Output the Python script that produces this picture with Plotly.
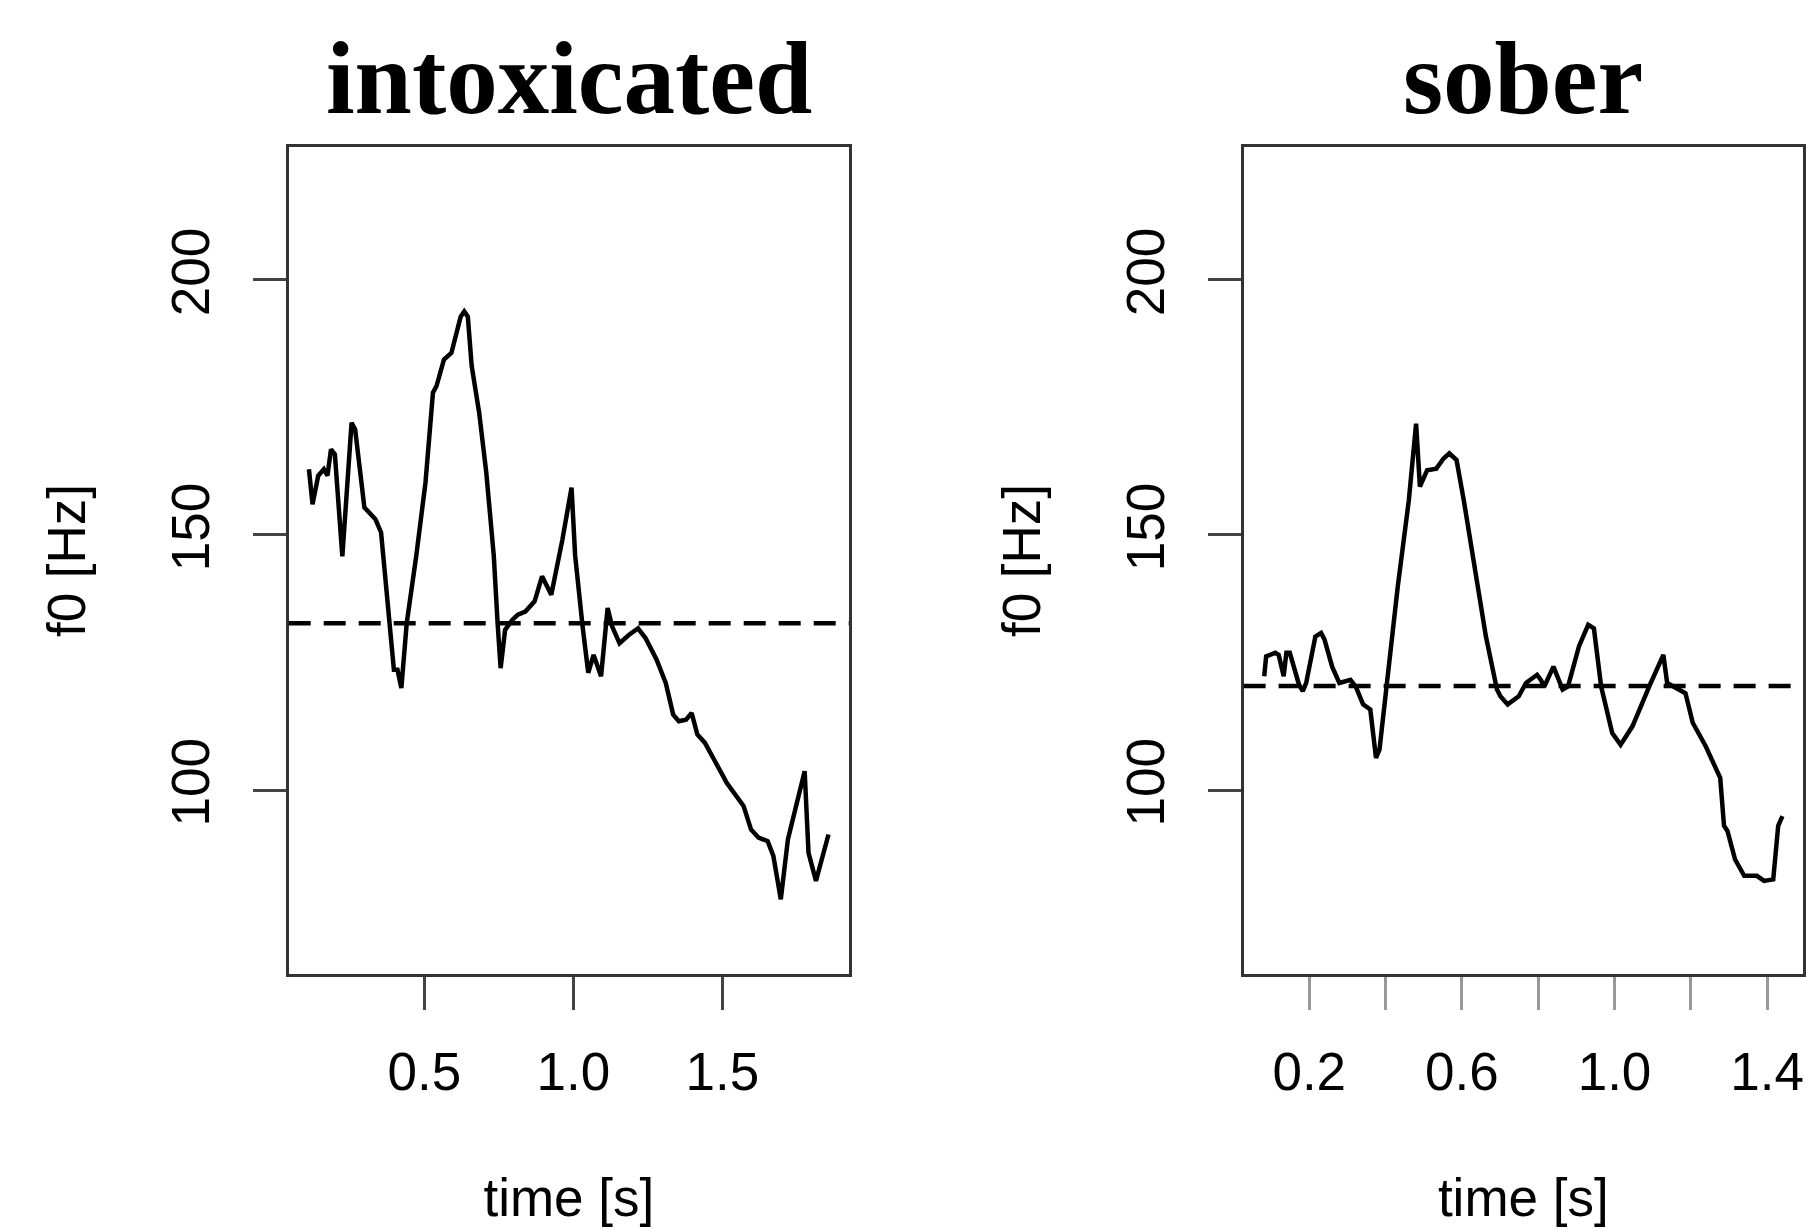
import plotly.graph_objects as go

# ---- data ----
t_intox = [0.113, 0.125, 0.144, 0.163, 0.175, 0.187, 0.200, 0.225, 0.256, 0.268,
           0.299, 0.336, 0.355, 0.385, 0.398, 0.410, 0.423, 0.441, 0.473, 0.504,
           0.529, 0.541, 0.566, 0.591, 0.622, 0.634, 0.646, 0.659, 0.684, 0.708,
           0.733, 0.746, 0.756, 0.771, 0.796, 0.814, 0.839, 0.870, 0.895, 0.926,
           0.963, 0.994, 1.006, 1.031, 1.050, 1.068, 1.093, 1.115, 1.130, 1.155,
           1.186, 1.217, 1.242, 1.279, 1.310, 1.335, 1.354, 1.378, 1.397, 1.416,
           1.441, 1.472, 1.515, 1.571, 1.596, 1.621, 1.652, 1.671, 1.696, 1.720,
           1.776, 1.789, 1.814, 1.856]
f0_intox = [162.9, 156.0, 161.6, 162.9, 161.6, 166.8, 165.8, 145.8, 172.0, 170.7,
            155.4, 153.1, 150.5, 132.7, 123.6, 123.6, 120.0, 132.7, 145.9, 160.3,
            177.9, 179.2, 184.4, 185.7, 192.8, 193.8, 192.8, 183.1, 174.0, 162.2,
            146.0, 132.7, 123.9, 131.4, 133.4, 134.4, 135.0, 137.0, 141.9, 138.3,
            149.0, 159.3, 146.0, 132.1, 123.0, 126.5, 122.3, 135.7, 132.1, 128.8,
            130.4, 131.7, 129.8, 125.6, 121.0, 114.8, 113.5, 113.8, 115.1, 110.9,
            109.3, 106.0, 101.4, 96.9, 92.3, 90.7, 90.0, 87.1, 78.6, 90.4,
            103.7, 87.7, 82.2, 91.3]

t_sober = [0.082, 0.087, 0.111, 0.120, 0.133, 0.140, 0.149, 0.164, 0.173, 0.183,
           0.192, 0.216, 0.231, 0.240, 0.260, 0.279, 0.298, 0.308, 0.322, 0.341,
           0.360, 0.368, 0.375, 0.384, 0.404, 0.432, 0.461, 0.480, 0.490, 0.509,
           0.533, 0.552, 0.567, 0.586, 0.605, 0.634, 0.663, 0.692, 0.701, 0.720,
           0.749, 0.768, 0.797, 0.807, 0.816, 0.840, 0.864, 0.878, 0.907, 0.931,
           0.946, 0.965, 0.994, 1.016, 1.047, 1.095, 1.128, 1.138, 1.157, 1.186,
           1.205, 1.239, 1.277, 1.287, 1.296, 1.316, 1.340, 1.373, 1.392, 1.416,
           1.429, 1.440]
f0_sober = [122.3, 126.2, 126.9, 126.5, 122.3, 126.9, 126.9, 122.9, 120.7, 119.4,
            121.0, 130.1, 130.8, 129.5, 124.2, 121.0, 121.3, 121.6, 120.3, 116.8,
            115.8, 109.9, 106.3, 107.9, 121.6, 139.9, 156.8, 171.8, 159.5, 162.7,
            163.0, 165.0, 166.0, 164.7, 156.8, 143.8, 130.1, 119.7, 118.4, 116.8,
            118.4, 121.0, 122.6, 121.6, 120.3, 124.2, 119.7, 120.3, 128.2, 132.4,
            131.7, 120.3, 111.2, 108.9, 112.5, 121.0, 126.5, 121.0, 120.3, 119.0,
            113.2, 108.6, 102.4, 93.0, 92.0, 86.4, 83.2, 83.2, 82.2, 82.5,
            93.0, 94.9]

mean_f0 = [132.7, 120.4]
panel_titles = ["intoxicated", "sober"]
x_title = "time [s]"
y_title = "f0 [Hz]"
left_xticks = [0.5, 1.0, 1.5]
left_xlabels = ["0.5", "1.0", "1.5"]
right_xticks = [0.2, 0.4, 0.6, 0.8, 1.0, 1.2, 1.4]
right_xlabels = ["0.2", "", "0.6", "", "1.0", "", "1.4"]
yticks = [100, 150, 200]
ylabels = ["100", "150", "200"]

W, H = 1806, 1230
SANS = "Liberation Sans, Arial, Helvetica, sans-serif"
SERIF = "Liberation Serif, Times New Roman, serif"
FS = 53

fig = go.Figure()
fig.add_trace(go.Scatter(x=t_intox, y=f0_intox, mode="lines",
                         line=dict(color="black", width=4.5), xaxis="x", yaxis="y",
                         showlegend=False, hoverinfo="skip"))
fig.add_trace(go.Scatter(x=t_sober, y=f0_sober, mode="lines",
                         line=dict(color="black", width=4.5), xaxis="x2", yaxis="y2",
                         showlegend=False, hoverinfo="skip"))

for i, (xr, yr) in enumerate([("x", "y"), ("x2", "y2")]):
    fig.add_shape(type="line", xref=f"{xr} domain", yref=yr, x0=0, x1=1,
                  y0=mean_f0[i], y1=mean_f0[i],
                  line=dict(color="black", width=4.5, dash="22px,13px"))
    fig.add_annotation(text=panel_titles[i], xref=f"{xr} domain", yref="paper",
                       x=0.5, y=(H - 78) / H, xanchor="center", yanchor="middle",
                       showarrow=False,
                       font=dict(family=SERIF, size=103, color="black", weight="bold"))

axis_common = dict(showline=True, linecolor="#333333", linewidth=2.5, mirror=True,
                   showgrid=False, zeroline=False, ticks="outside", ticklen=33,
                   tickwidth=2.5, tickfont=dict(family=SANS, size=FS, color="black"),
                   title_font=dict(family=SANS, size=FS, color="black"))

ydom = [(H - 973.8) / H, (H - 147.2) / H]

fig.update_layout(
    width=W, height=H, margin=dict(l=0, r=0, t=0, b=0),
    paper_bgcolor="white", plot_bgcolor="white",
    xaxis=dict(domain=[289 / W, 850 / W], range=[0.045, 1.925], anchor="y",
               tickvals=left_xticks, ticktext=left_xlabels, tickcolor="#444444",
               ticklabelstandoff=17,
               title=dict(text=x_title, standoff=79), **axis_common),
    yaxis=dict(domain=ydom, range=[64, 226], anchor="x",
               tickvals=yticks, ticktext=ylabels, tickangle=-90, tickcolor="#444444",
               ticklabelstandoff=23,
               title=dict(text=y_title, standoff=59), **axis_common),
    xaxis2=dict(domain=[1245 / W, 1805 / W], range=[0.028, 1.494], anchor="y2",
                tickvals=right_xticks, ticktext=right_xlabels, tickcolor="#999999",
                ticklabelstandoff=17,
                title=dict(text=x_title, standoff=79), **axis_common),
    yaxis2=dict(domain=ydom, range=[64, 226], anchor="x2",
                tickvals=yticks, ticktext=ylabels, tickangle=-90, tickcolor="#444444",
                ticklabelstandoff=23,
                title=dict(text=y_title, standoff=59), **axis_common),
)

fig.write_html("out.html")
